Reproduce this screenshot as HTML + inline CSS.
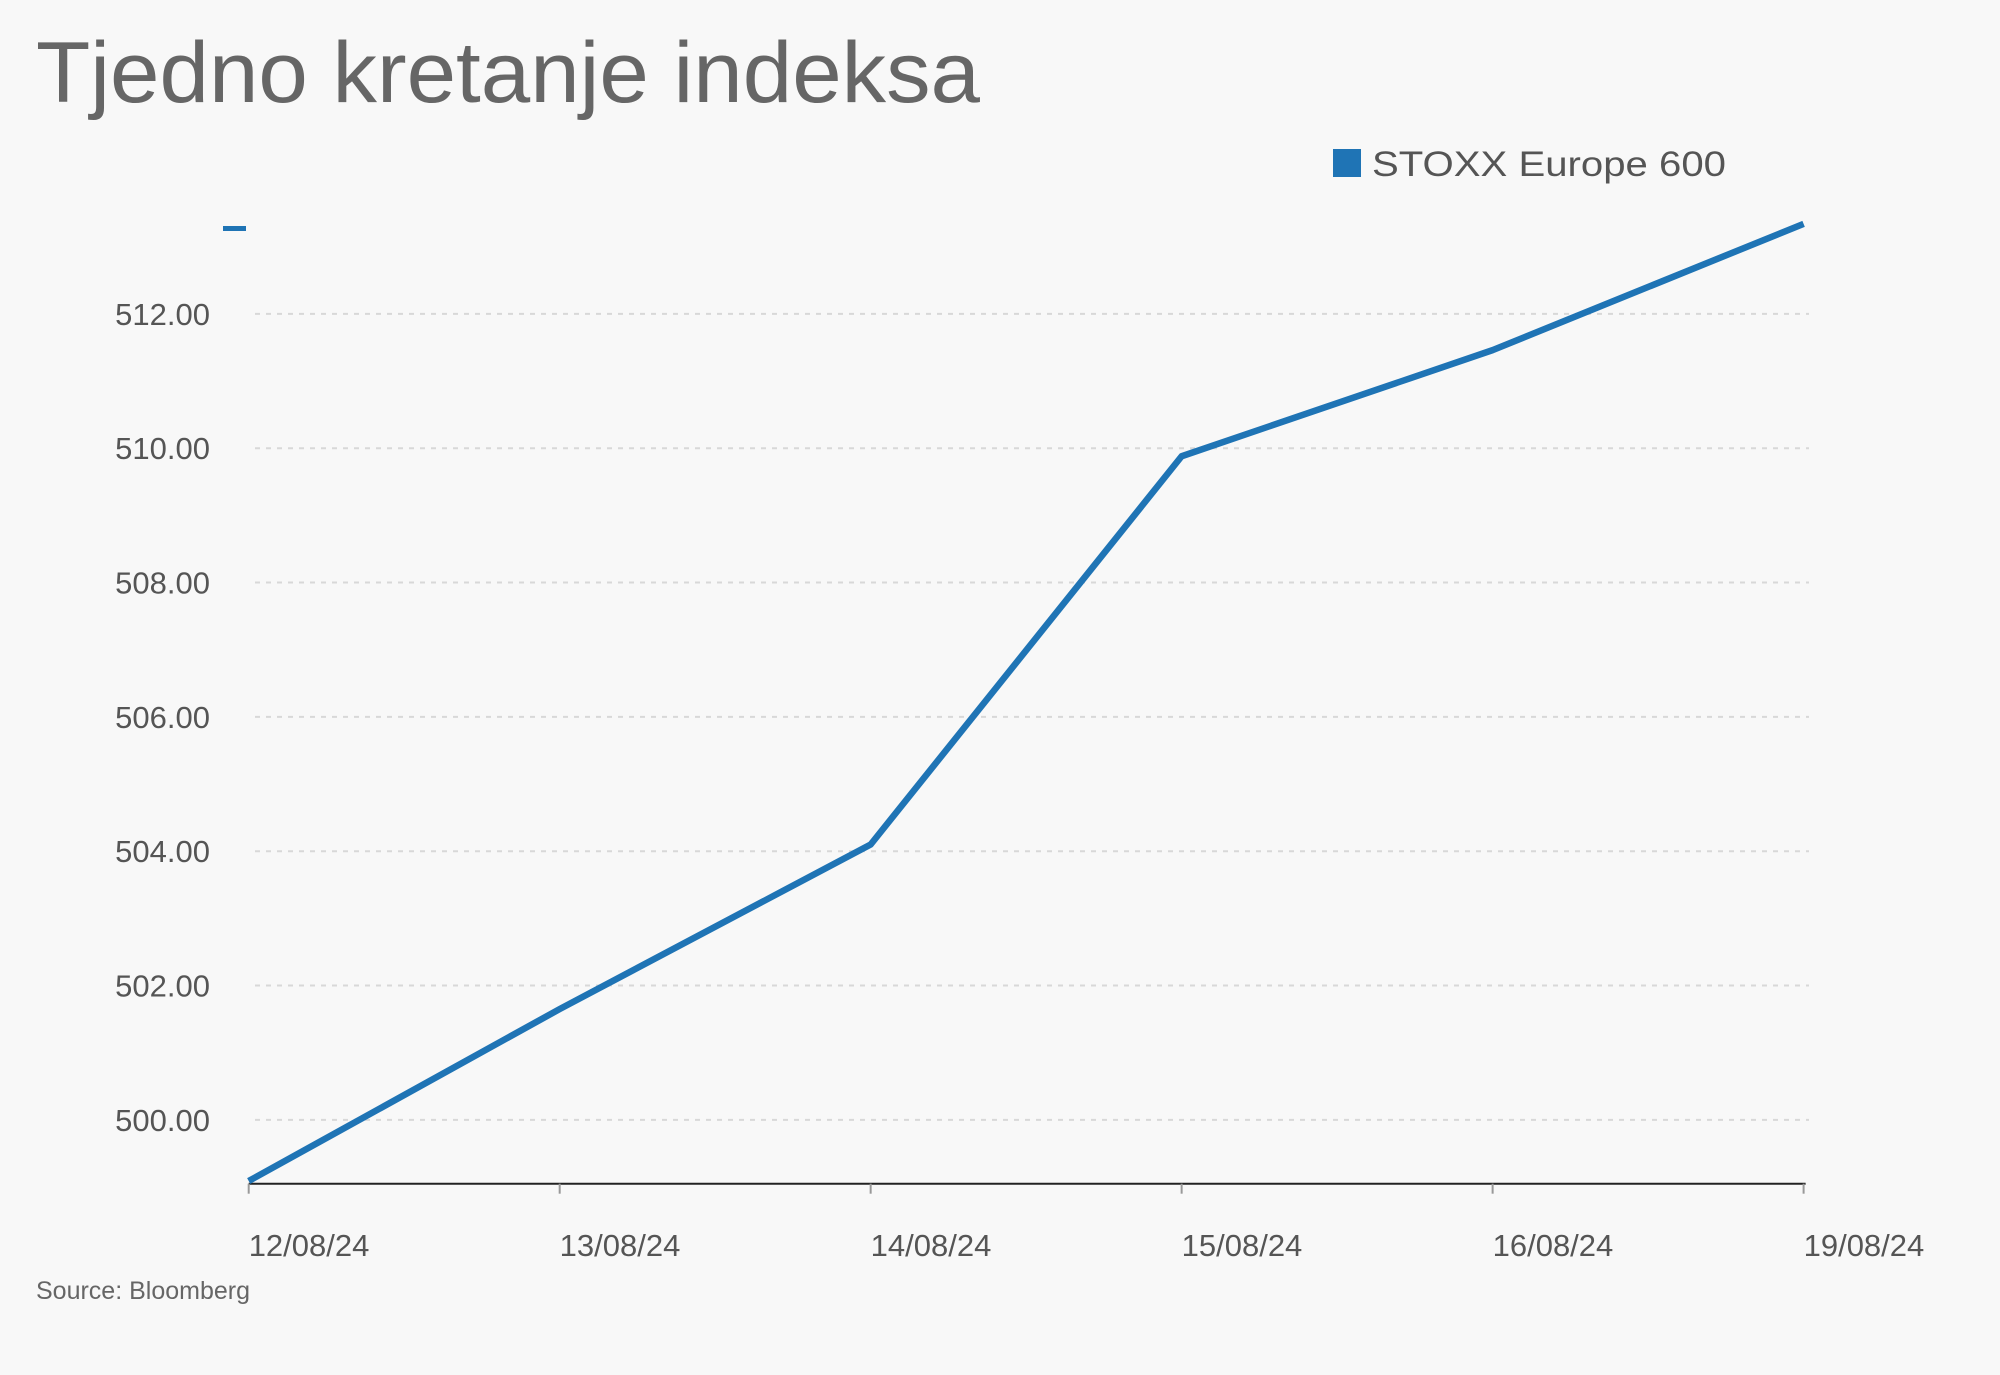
<!DOCTYPE html>
<html><head><meta charset="utf-8"><style>
html,body{margin:0;padding:0;background:#f8f8f8;}
svg{display:block;font-family:"Liberation Sans",sans-serif;}
</style></head><body>
<svg id="chart" width="2000" height="1375" viewBox="0 0 2000 1375">
<rect x="0" y="0" width="2000" height="1375" fill="#f8f8f8"/>
<text x="36" y="102" font-size="86" fill="#666" textLength="944" lengthAdjust="spacingAndGlyphs">Tjedno kretanje indeksa</text>
<g>
<rect x="1333" y="149" width="28" height="28" fill="#1f74b5"/>
<text x="1372" y="176" font-size="35" fill="#555" textLength="354" lengthAdjust="spacingAndGlyphs">STOXX Europe 600</text>
</g>
<rect x="223" y="226" width="23" height="5" fill="#1f74b5"/>
<g id="grid"></g><g id="xaxis"></g><g id="series"></g>
<text x="36" y="1299" font-size="25" fill="#666">Source: Bloomberg</text>
</svg>
<script>
const categories=["12/08/24","13/08/24","14/08/24","15/08/24","16/08/24","19/08/24"];
const values=[499.09,501.65,504.1,509.88,511.46,513.34];
const yTicks=[500,502,504,506,508,510,512];
const yTickLabels=["500.00","502.00","504.00","506.00","508.00","510.00","512.00"];
const NS="http://www.w3.org/2000/svg";
const x0=248.7,x1=1803.6,plotRight=1809,yMin=499.05,yBottom=1183.7,pxPerUnit=67.17;
function xs(i){return x0+(x1-x0)*i/(categories.length-1);}
function ys(v){return yBottom-(v-yMin)*pxPerUnit;}
function mk(tag,attrs,parent){const e=document.createElementNS(NS,tag);for(const k in attrs)e.setAttribute(k,attrs[k]);parent.appendChild(e);return e;}
const grid=document.getElementById('grid');
yTicks.forEach((t,i)=>{
 const l=mk('line',{x1:255,x2:plotRight,y1:ys(t),y2:ys(t),stroke:'#d8d8d8','stroke-width':2,'stroke-dasharray':'5,6'},grid);
 
 
 const tx=mk('text',{x:210,y:ys(t)+11,'font-size':31,fill:'#555','text-anchor':'end'},grid);
 tx.textContent=yTickLabels[i];
 
 
});
const xa=document.getElementById('xaxis');
const ax=mk('line',{x1:x0,x2:x1+2,y1:yBottom,y2:yBottom,stroke:'#222','stroke-width':2},xa);


categories.forEach((c,i)=>{
 const tk=mk('line',{x1:xs(i),x2:xs(i),y1:yBottom,y2:yBottom+10,stroke:'#999','stroke-width':2},xa);
 
 
 const tx=mk('text',{x:xs(i),y:1256,'font-size':31,fill:'#555'},xa);
 tx.textContent=c;
 
 
});
const pts=values.map((v,i)=>xs(i)+','+ys(v)).join(' ');
const pl=mk('polyline',{points:pts,fill:'none',stroke:'#1f74b5','stroke-width':6.5,'stroke-linejoin':'round'},document.getElementById('series'));


</script>
</body></html>
